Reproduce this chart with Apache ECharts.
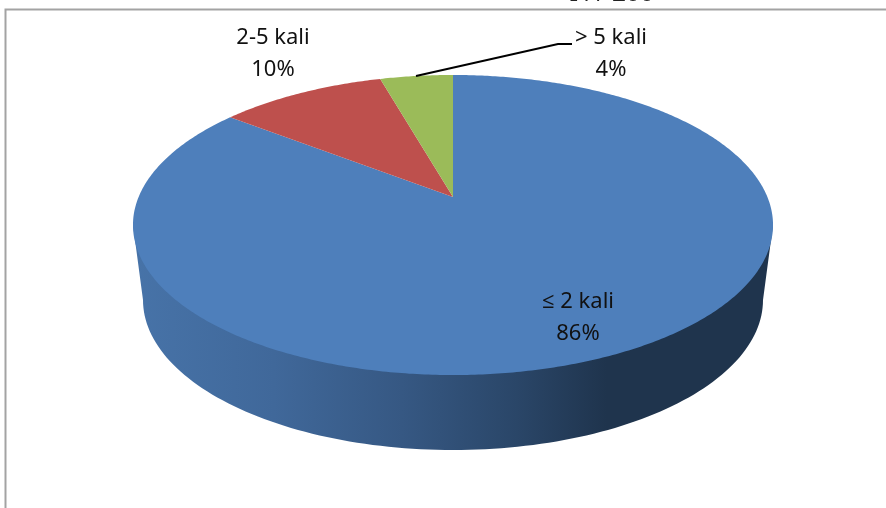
<!DOCTYPE html>
<html>
<head>
<meta charset="utf-8">
<style>html,body{margin:0;padding:0;background:#fff;overflow:hidden}#c{width:886px;height:508px}</style>
<script src="https://cdn.jsdelivr.net/npm/echarts@6/dist/echarts.min.js"></script>
</head>
<body>
<div id="c"></div>
<script>
// --- data ---
const categories = ['≤ 2 kali', '2-5 kali', '> 5 kali'];
const sliceValues = [85.5, 10.1, 4.4];
const percentLabels = ['86%', '10%', '4%'];
const subtitle = 'N / 200';

// --- styling / layout ---
const sliceColors = ['#4E7FBB', '#BE504D', '#9BBB59'];
const labelAnchors = [[578, 318], [273, 54], [611, 54]];
const FONT = '22px "Noto Sans", "Open Sans", sans-serif';
const leaderLine = [[416, 76], [558, 44], [572, 44]];

// Perspective disc: apex, half-axes, tilt
const APEX = [453, 197], AX = 314.4, AY = 144.8, TILT = 0.1867;
function project(theta) { // theta: clockwise from 12 o'clock, radians
  const u = Math.sin(theta), v = -Math.cos(theta), w = 1 - TILT * v;
  return [APEX[0] + AX * u / w, APEX[1] + AY * v / w];
}
function sidePoints() {
  const pts = [[133, 225]];
  const cx = 453, cy = 300, rx = 310, ry = 150;
  for (let i = 0; i <= 120; i++) {
    const a = Math.PI - Math.PI * i / 120;
    pts.push([cx + rx * Math.cos(a), cy + ry * Math.sin(a)]);
  }
  pts.push([773, 225]);
  return pts;
}
const total = sliceValues.reduce((a, b) => a + b, 0);
const sliceData = categories.map((c, i) => ({ name: c, value: [i, sliceValues[i]] }));

const chart = echarts.init(document.getElementById('c'), null, { renderer: 'canvas' });
chart.setOption({
  animation: false,
  backgroundColor: '#fff',
  graphic: [
    { type: 'polyline', silent: true, z: 0,
      shape: { points: [[5.5, 508], [5.5, 9.5], [886, 9.5]] },
      style: { stroke: '#a3a3a3', lineWidth: 2, fill: null } },
    { type: 'text', silent: true, z: 0,
      style: { text: subtitle, x: 612, y: 8, align: 'center', verticalAlign: 'bottom',
        font: 'bold 28px "Liberation Serif", serif', fill: '#222' } }
  ],
  series: [
    { // side wall of the disc
      type: 'custom', coordinateSystem: 'none', z: 1, silent: true,
      data: [[0]],
      renderItem: function () {
        return { type: 'polygon', shape: { points: sidePoints() },
          style: { fill: new echarts.graphic.LinearGradient(0, 0, 1, 0, [
            { offset: 0, color: '#4773A8' },
            { offset: 0.22, color: '#40689A' },
            { offset: 0.42, color: '#365883' },
            { offset: 0.60, color: '#2A4668' },
            { offset: 0.74, color: '#1F344D' },
            { offset: 1, color: '#1F344D' }
          ]) } };
      }
    },
    { // top face slices
      type: 'custom', coordinateSystem: 'none', z: 2, silent: true,
      data: sliceData,
      renderItem: function (params, api) {
        const i = api.value(0);
        let before = 0;
        for (let k = 0; k < i; k++) before += sliceValues[k];
        const a0 = before / total * 2 * Math.PI;
        const a1 = (before + api.value(1)) / total * 2 * Math.PI;
        const n = Math.max(4, Math.ceil((a1 - a0) / 0.01));
        const pts = [APEX];
        for (let j = 0; j <= n; j++) pts.push(project(a0 + (a1 - a0) * j / n));
        return { type: 'polygon', shape: { points: pts }, style: { fill: sliceColors[i] } };
      }
    },
    { // data labels
      type: 'custom', coordinateSystem: 'none', z: 3, silent: true,
      data: sliceData,
      renderItem: function (params, api) {
        const i = api.value(0);
        const [x, y] = labelAnchors[i];
        return { type: 'text', style: { text: categories[i] + '\n' + percentLabels[i],
          x: x, y: y, align: 'center', verticalAlign: 'middle', font: FONT,
          lineHeight: 32, fill: '#111' } };
      }
    },
    { // leader line of the smallest slice
      type: 'custom', coordinateSystem: 'none', z: 3, silent: true,
      data: [[2]],
      renderItem: function () {
        return { type: 'polyline', shape: { points: leaderLine },
          style: { stroke: '#000', lineWidth: 2, fill: null } };
      }
    }
  ]
});
</script>
</body>
</html>
